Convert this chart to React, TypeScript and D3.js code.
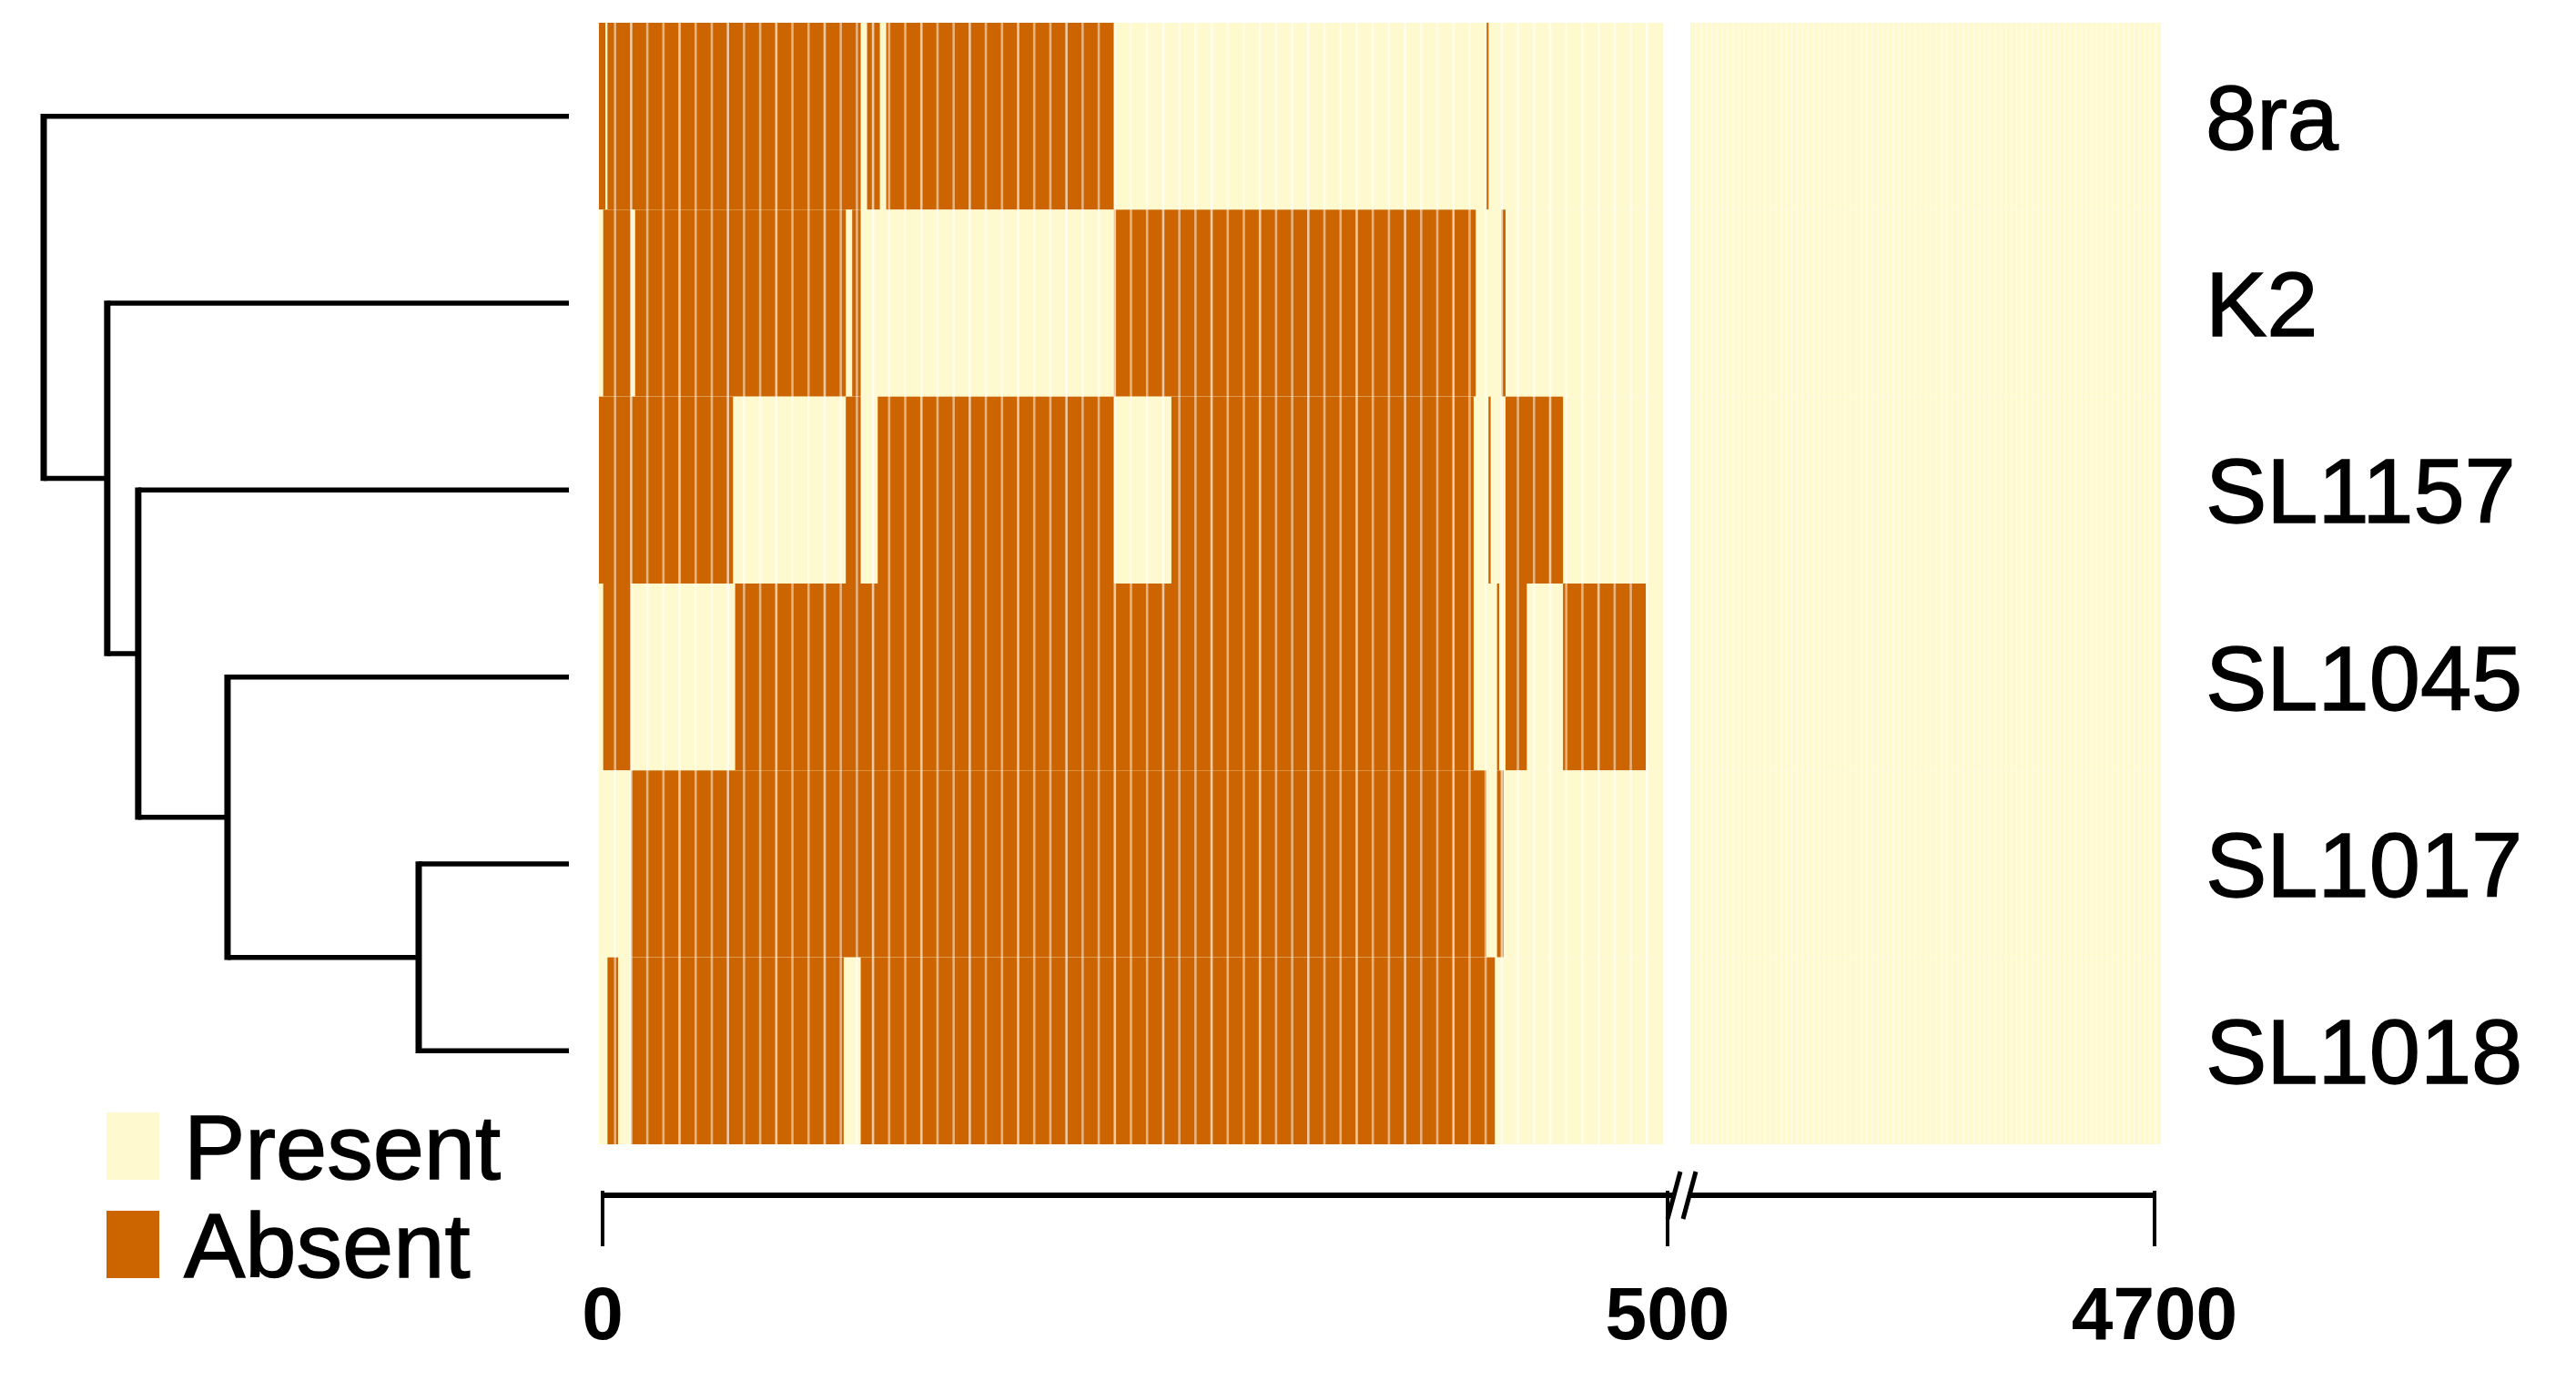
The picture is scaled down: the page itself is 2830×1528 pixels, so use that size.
import React from "react";
import * as d3 from "d3";

// ---------- data ----------
const samples = ["8ra", "K2", "SL1157", "SL1045", "SL1017", "SL1018"];

// absent gene intervals [start, end) in gene index units (panel 1 covers 0-500)
const absent8ra = [[0, 3], [4, 123], [126, 132], [135, 242], [417, 418]];
const absentK2 = [[2, 15], [17, 116], [119, 123], [242, 412], [424, 426]];
const absentSL1157 = [[0, 63], [116, 123], [131, 242], [269, 411], [418, 419], [426, 453]];
const absentSL1045 = [[2, 15], [64, 411], [422, 423], [426, 436], [453, 492]];
const absentSL1017 = [[15, 417], [422, 425]];
const absentSL1018 = [[4, 9], [15, 115], [123, 421]];
const absentByRow = [absent8ra, absentK2, absentSL1157, absentSL1045, absentSL1017, absentSL1018];

const axisTicks = [0, 500, 4700];
const legendItems = ["Present", "Absent"];

// dendrogram (heights relative to root = 1)
const tree = {
  h: 1.0,
  children: [
    { name: "8ra" },
    {
      h: 0.879,
      children: [
        { name: "K2" },
        {
          h: 0.82,
          children: [
            { name: "SL1157" },
            {
              h: 0.65,
              children: [
                { name: "SL1045" },
                { h: 0.286, children: [{ name: "SL1017" }, { name: "SL1018" }] },
              ],
            },
          ],
        },
      ],
    },
  ],
};

// ---------- style ----------
const PRESENT = "#FFF9CF";
const ABSENT = "#CC6500";
const FONT = "'Liberation Sans', Arial, Helvetica, sans-serif";

export default function App() {
  const W = 2830;
  const H = 1528;

  const x1 = d3.scaleLinear().domain([0, 500]).range([658, 1827]);
  const x2 = d3.scaleLinear().domain([500, 4700]).range([1857, 2374]);
  const axisX = d3.scaleLinear().domain(axisTicks).range([662, 1832, 2367]);
  const y = d3.scaleBand().domain(samples).range([25, 1257]).padding(0);
  const xd = d3.scaleLinear().domain([0, 1]).range([625, 48]);

  // dendrogram layout
  const vlines: { x1: number; y1: number; x2: number; y2: number }[] = [];
  const hlines: { x1: number; y1: number; x2: number; y2: number }[] = [];
  function layout(node: any): { x: number; y: number } {
    if (!node.children) {
      return { x: xd(0), y: (y(node.name) as number) + y.bandwidth() / 2 };
    }
    const kids = node.children.map(layout);
    const nx = xd(node.h);
    const ny = d3.mean(kids, (k: any) => k.y) as number;
    vlines.push({ x1: nx, y1: kids[0].y, x2: nx, y2: kids[kids.length - 1].y });
    kids.forEach((k: any) => hlines.push({ x1: nx, y1: k.y, x2: k.x, y2: k.y }));
    return { x: nx, y: ny };
  }
  layout(tree);

  const stripes1 = d3.range(0, 500, 500 / 66).slice(1);
  const stripes2 = d3.range(500, 4700, 4200 / 88).slice(1);

  const axisY = 1313;
  const bx = axisX(500);

  return (
    <svg
      width={W}
      height={H}
      style={{ position: "absolute", left: 0, top: 0, background: "#fff" }}
      xmlns="http://www.w3.org/2000/svg"
    >
      <rect x={0} y={0} width={W} height={H} fill="#fff" />
      {/* heatmap */}
      {samples.map((s, i) => (
        <g key={s}>
          <rect x={x1(0)} y={y(s)} width={x1(500) - x1(0)} height={y.bandwidth()} fill={PRESENT} />
          <rect x={x2(500)} y={y(s)} width={x2(4700) - x2(500)} height={y.bandwidth()} fill={PRESENT} />
          {absentByRow[i].map(([a, b], j) => (
            <rect key={j} x={x1(a)} y={y(s)} width={x1(b) - x1(a)} height={y.bandwidth()} fill={ABSENT} />
          ))}
        </g>
      ))}
      {stripes1.map((g, i) => (
        <line
          key={"s1" + i}
          x1={x1(g)}
          x2={x1(g)}
          y1={y.range()[0]}
          y2={y.range()[1]}
          stroke="#fff"
          strokeOpacity={i % 3 === 1 ? 0.65 : 0.5}
          strokeWidth={2.6}
        />
      ))}
      {stripes2.map((g, i) => (
        <line
          key={"s2" + i}
          x1={x2(g)}
          x2={x2(g)}
          y1={y.range()[0]}
          y2={y.range()[1]}
          stroke="#fff"
          strokeOpacity={0.4}
          strokeWidth={1.6}
        />
      ))}

      {/* dendrogram */}
      {hlines.map((l, i) => (
        <line key={"h" + i} x1={l.x1} y1={l.y1} x2={l.x2} y2={l.y2} stroke="#000" strokeWidth={5.5} />
      ))}
      {vlines.map((l, i) => (
        <line key={"v" + i} x1={l.x1} y1={l.y1 - 2.75} x2={l.x2} y2={l.y2 + 2.75} stroke="#000" strokeWidth={7} />
      ))}

      {/* row labels */}
      {samples.map((s) => (
        <text
          key={"l" + s}
          x={2423}
          y={(y(s) as number) + y.bandwidth() / 2 + 36}
          fontFamily={FONT}
          fontSize={101}
          fill="#000"
          stroke="#000"
          strokeWidth={1.4}
        >
          {s}
        </text>
      ))}

      {/* legend */}
      {legendItems.map((t, i) => (
        <g key={t}>
          <rect x={117} y={1222 + i * 108} width={58} height={74} fill={i === 0 ? PRESENT : ABSENT} />
          <text
            x={202}
            y={1259 + i * 108 + 36}
            fontFamily={FONT}
            fontSize={101}
            fill="#000"
            stroke="#000"
            strokeWidth={1.4}
          >
            {t}
          </text>
        </g>
      ))}

      {/* axis */}
      <line x1={axisX(0)} x2={axisX(4700)} y1={axisY} y2={axisY} stroke="#000" strokeWidth={6} />
      {axisTicks.map((t) => (
        <g key={"t" + t}>
          <line x1={axisX(t)} x2={axisX(t)} y1={axisY - 5} y2={axisY + 56} stroke="#000" strokeWidth={4} />
          <text
            x={axisX(t)}
            y={1471}
            textAnchor="middle"
            fontFamily={FONT}
            fontWeight="bold"
            fontSize={82}
            fill="#000"
          >
            {t}
          </text>
        </g>
      ))}
      {/* axis break marks */}
      <rect x={bx + 9} y={axisY - 4} width={13} height={8} fill="#fff" />
      <line x1={bx} y1={axisY + 26} x2={bx + 14} y2={axisY - 26} stroke="#000" strokeWidth={5} />
      <line x1={bx + 17} y1={axisY + 26} x2={bx + 31} y2={axisY - 26} stroke="#000" strokeWidth={5} />
    </svg>
  );
}
